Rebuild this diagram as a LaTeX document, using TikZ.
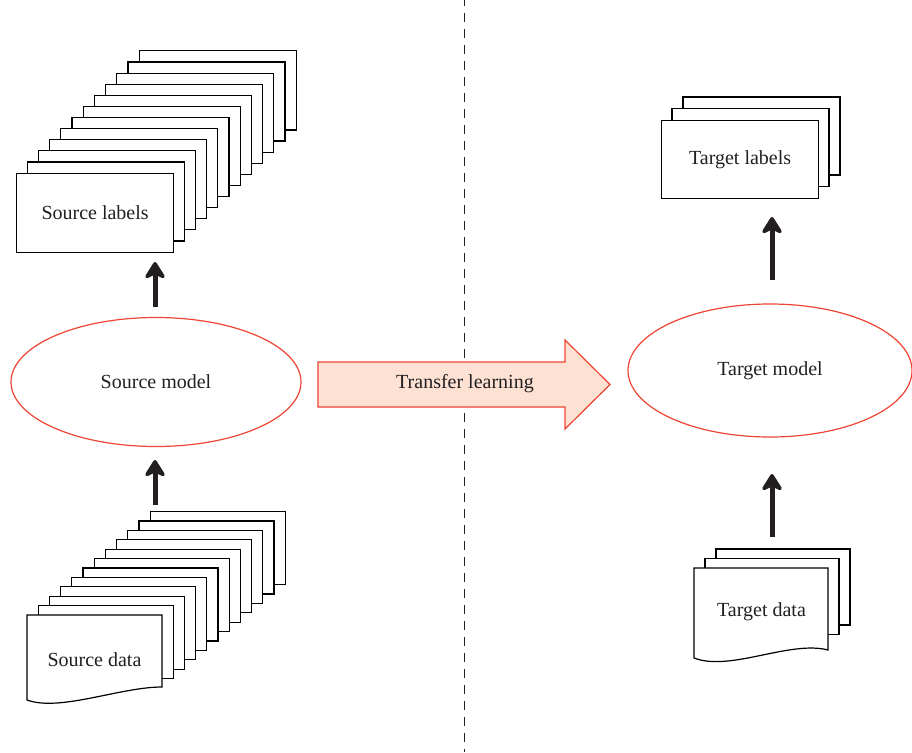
\documentclass[tikz,border=0pt]{standalone}
\usepackage{fontspec}
\setmainfont{Liberation Serif}
\usetikzlibrary{arrows.meta,shapes.geometric}

\definecolor{modelred}{HTML}{EE4433}
\definecolor{arrowfill}{HTML}{FDE2D4}
\definecolor{inktext}{HTML}{231F20}

\tikzset{
  sheet/.style={draw=black, fill=white, line width=1.2pt, line join=miter},
  model/.style={ellipse, draw=modelred, line width=1.2pt, inner sep=0pt},
  lbl/.style={font=\fontsize{20}{24}\selectfont, text=inktext},
  flow/.style={line width=5pt, draw=inktext,
    -{Stealth[length=20pt,width=25pt,inset=6pt,round]}},
  divider/.style={draw=inktext, line width=1.1pt, dash pattern=on 9pt off 7pt, dash phase=-13pt},
  transfer/.style={draw=modelred, fill=arrowfill, line width=1.2pt, line join=miter},
}

\begin{document}
\begin{tikzpicture}[x=1pt,y=-1pt]
\useasboundingbox (0,0) rectangle (912,752);

% dividing line between source and target domain
\coordinate (dtop) at (464.5,0);
\coordinate (dbot) at (464.5,752);
\draw[divider] (dtop) -- (dbot);

% ---- source side ----
% stack of label sheets
\foreach \i in {11,...,1}
  \draw[sheet] ({16+\i*11.2},{173-\i*11.1}) rectangle ++(157,79);
\node[sheet, lbl, anchor=north west, minimum width=157pt, minimum height=79pt,
      inner sep=0pt] (srclabels) at (16,173) {Source labels};

% stack of data sheets
\foreach \i in {11,...,1}
  \draw[sheet] ({27+\i*11.2},{615-\i*9.4}) rectangle ++(135,73);
\draw[sheet] (27,615) -- (162,615) -- (162,687)
  .. controls (120,687) and (60,712) .. (27,700) -- cycle;
\node[lbl] (srcdata) at (94.5,660) {Source data};

% source model
\node[model, lbl, minimum width=290pt, minimum height=129pt] (srcmodel) at (156,382) {Source model};

\coordinate (s1a) at (155,505);
\coordinate (s1b) at (155,460);
\coordinate (s2a) at (155,307);
\coordinate (s2b) at (155,262);
\draw[flow] (s1a) -- (s1b);
\draw[flow] (s2a) -- (s2b);

% ---- transfer arrow ----
\draw[transfer] (318,362) -- (565,362) -- (565,340) -- (610,384.5)
  -- (565,429) -- (565,407) -- (318,407) -- cycle;
\node[lbl] (transfer) at (465,383.5) {Transfer learning};

% ---- target side ----
\foreach \i in {2,1}
  \draw[sheet] ({661+\i*11},{120-\i*11.5}) rectangle ++(157,78);
\node[sheet, lbl, anchor=north west, minimum width=157pt, minimum height=78pt,
      inner sep=0pt] (tgtlabels) at (661,120) {Target labels};

\foreach \i in {2,1}
  \draw[sheet] ({694+\i*11},{568-\i*9.5}) rectangle ++(134,76);
\draw[sheet] (694,568) -- (828,568) -- (828,650)
  .. controls (790,640) and (730,672) .. (694,658) -- cycle;
\node[lbl] (tgtdata) at (761.5,612) {Target data};

\node[model, lbl, minimum width=284pt, minimum height=133pt] (tgtmodel) at (770,370.5) {Target model};

\coordinate (t1a) at (772,537);
\coordinate (t1b) at (772,474);
\coordinate (t2a) at (772,280);
\coordinate (t2b) at (772,217);
\draw[flow] (t1a) -- (t1b);
\draw[flow] (t2a) -- (t2b);
\end{tikzpicture}
\end{document}
